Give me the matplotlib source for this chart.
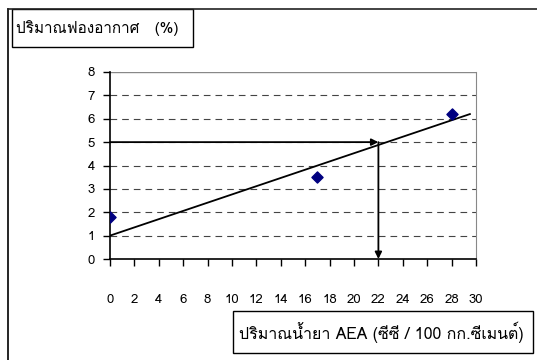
import matplotlib
matplotlib.use('Agg')
import matplotlib.pyplot as plt
from matplotlib import font_manager
from matplotlib.ft2font import FT2Font
from matplotlib.lines import Line2D

# pick an installed family that has Thai glyphs
thai_family = None
for f in font_manager.fontManager.ttflist:
    try:
        if ord('ม') in FT2Font(f.fname).get_charmap():
            thai_family = f.name
            break
    except Exception:
        pass
families = [thai_family, 'Liberation Sans', 'DejaVu Sans'] if thai_family else ['Liberation Sans', 'DejaVu Sans']
plt.rcParams['font.family'] = families

# data
aea_dose = [0, 17, 28]
air_content = [1.8, 3.5, 6.2]
trend_x = [0, 29.5]
trend_y = [1.0, 6.2]
target_air = 5
target_dose = 22
x_ticks = list(range(0, 31, 2))
y_ticks = list(range(0, 9))
y_label = 'ปริมาณฟองอากาศ   (%)'
x_label = 'ปริมาณน้ำยา AEA (ซีซี / 100 กก.ซีเมนต์)'

fig = plt.figure(figsize=(5.37, 3.6), dpi=100)
ax = fig.add_axes([110/537, 101/360, 366/537, 187/360])

# gridlines
for yv in y_ticks[1:-1]:
    ax.axhline(yv, color='#444444', lw=0.8, linestyle=(0, (6, 4.5)), zorder=1)
ax.axhline(8, color='#888888', lw=1.0, zorder=1)

ax.plot(trend_x, trend_y, color='black', lw=1.3, zorder=3)
ax.scatter(aea_dose, air_content, marker='D', s=32, color='#000080', zorder=4)

ax.annotate('', xy=(target_dose, target_air), xytext=(0, target_air),
            arrowprops=dict(arrowstyle='-|>', color='black', lw=1.3,
                            shrinkA=0, shrinkB=0, mutation_scale=10), zorder=5)
ax.annotate('', xy=(target_dose, 0), xytext=(target_dose, target_air),
            arrowprops=dict(arrowstyle='-|>', color='black', lw=1.3,
                            shrinkA=0, shrinkB=0, mutation_scale=10), zorder=5)

ax.set_xlim(0, 30)
ax.set_ylim(0, 8)
ax.set_xticks(x_ticks)
ax.set_yticks(y_ticks)
ax.tick_params(axis='x', direction='out', length=5, width=1, pad=20, labelsize=9.5)
ax.tick_params(axis='y', direction='out', length=5, width=1, pad=6, labelsize=9.5)
ax.spines['top'].set_visible(False)
ax.spines['right'].set_color('#888888')
ax.spines['left'].set_linewidth(1.2)
ax.spines['bottom'].set_linewidth(1.2)

# outer frame (only top and left visible)
fig.add_artist(Line2D([8/537, 8/537], [0, 1 - 9/360], transform=fig.transFigure, color='black', lw=1.2))
fig.add_artist(Line2D([8/537, 1], [1 - 9/360, 1 - 9/360], transform=fig.transFigure, color='#222222', lw=1.2))

# title box
fig.add_artist(plt.Rectangle((12/537, 1 - 47/360), 181/537, 38/360, transform=fig.transFigure,
                             fill=False, edgecolor='black', lw=1.0))
fig.text(16/537, 1 - 28/360, y_label, fontsize=11, va='center', ha='left')

# x label box
fig.add_artist(plt.Rectangle((233/537, 1 - 353/360), 300/537, 42/360, transform=fig.transFigure,
                             fill=False, edgecolor='black', lw=1.0))
fig.text(239/537, 1 - 332/360, x_label, fontsize=11.5, va='center', ha='left')

fig.savefig('out.png', dpi=100)
